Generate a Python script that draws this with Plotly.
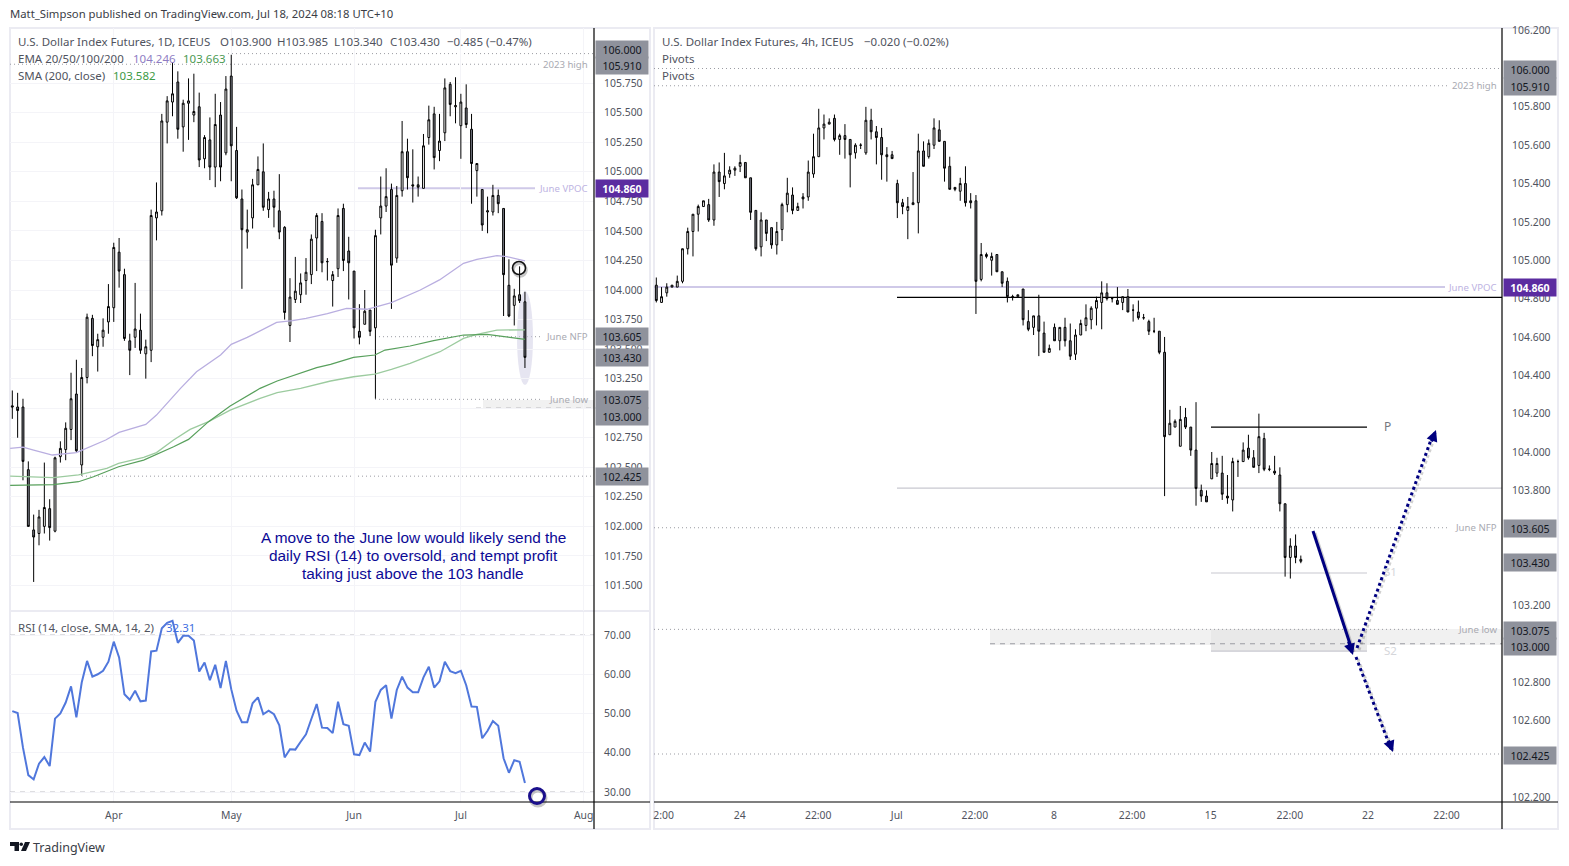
import plotly.graph_objects as go

W, H = 1569, 866
# ---------------- daily candles (U.S. Dollar Index Futures, 1D) ----------------
d_open = [103.02,103.01,103.01,102.48,101.97,101.94,102.00,102.15,101.96,102.59,
102.65,102.82,103.12,102.52,103.26,103.76,103.52,103.60,103.73,103.85,
104.32,104.13,103.57,103.60,103.66,103.46,103.49,104.61,104.67,105.42,
105.59,105.76,105.38,105.58,105.48,105.55,105.11,105.27,105.04,105.48,
105.16,105.81,105.18,104.77,104.49,104.61,104.89,105.00,104.68,104.77,
104.67,104.53,103.70,103.92,103.96,104.08,104.13,104.44,104.58,104.24,
104.08,104.18,104.69,104.33,104.16,103.65,103.71,103.83,103.68,104.61,
104.71,104.85,104.27,104.84,105.17,104.89,104.89,104.86,105.29,105.49,
105.18,105.33,105.74,105.55,105.39,105.54,105.36,105.01,104.85,104.66,
104.66,104.80,104.69,104.04,103.87,103.96,103.90]
d_high = [103.15,103.13,103.08,102.55,102.10,102.14,102.54,102.23,102.59,102.72,
102.88,103.30,103.41,103.34,103.80,103.79,103.63,103.76,104.05,104.40,
104.44,104.18,103.63,104.06,103.80,103.58,104.68,104.91,105.49,105.64,
105.92,105.85,105.61,105.79,105.83,105.67,105.31,105.46,105.66,105.59,
105.81,105.99,105.38,104.85,104.68,104.94,105.13,105.24,104.83,104.84,
104.98,104.54,104.10,104.28,104.14,104.27,104.47,104.65,104.65,104.27,
104.16,104.69,104.73,104.45,104.16,103.88,104.00,103.83,104.51,104.96,
105.03,104.90,104.88,105.43,105.28,105.19,104.96,105.32,105.56,105.55,
105.49,105.79,105.76,105.80,105.66,105.74,105.49,105.07,104.85,104.79,
104.89,104.85,104.69,104.26,104.01,104.20,103.985]
d_low = [102.91,102.75,102.39,102.00,101.53,101.84,101.94,101.88,101.95,102.54,
102.56,102.73,102.63,102.43,103.21,103.44,103.31,103.52,103.63,103.73,
104.02,103.57,103.28,103.51,103.46,103.25,103.39,104.42,104.63,105.24,
105.47,105.28,105.17,105.27,105.42,105.04,105.03,104.93,104.87,104.92,
105.14,104.92,104.77,104.01,104.35,104.52,104.89,104.67,104.61,104.53,
104.43,103.75,103.56,103.89,103.89,103.96,104.05,104.16,104.15,104.08,
103.86,104.11,104.16,103.92,103.59,103.54,103.71,103.61,103.08,104.47,
104.66,103.84,104.23,104.79,104.85,104.74,104.79,104.86,105.23,105.02,
105.09,105.26,105.47,105.41,105.11,105.37,104.73,104.79,104.50,104.48,
104.63,104.65,103.78,103.77,103.70,103.89,103.34]
d_close = [103.01,102.98,102.55,102.00,101.91,102.08,102.16,101.99,102.58,102.66,
102.83,103.08,102.64,103.26,103.77,103.53,103.58,103.66,103.86,104.36,
104.16,103.59,103.49,103.67,103.49,103.52,104.63,104.66,105.43,105.60,
105.66,105.36,105.58,105.60,105.51,105.10,105.29,105.04,105.40,105.04,
105.70,105.22,104.78,104.51,104.51,104.89,105.02,104.70,104.77,104.70,
104.49,103.81,103.94,103.99,104.06,104.15,104.43,104.63,104.23,104.24,
104.13,104.63,104.25,104.23,103.68,103.60,103.82,103.65,104.46,104.71,
104.79,104.21,104.80,105.17,104.95,104.88,104.87,105.22,105.44,105.12,
105.26,105.71,105.57,105.56,105.59,105.40,105.07,105.07,104.55,104.67,
104.80,104.73,104.13,103.78,103.95,103.91,103.43]

# moving averages, read at a few sessions
ema_x = [-0.4,2,4,7.5,12,17.5,20,25,27,31.5,34.5,39,41,44,49.5,52.5,55,59,62.6,66.4,71,76.4,80,84.5,87,90.75,92.6,96]
ema_y = [102.66,102.67,102.646,102.604,102.624,102.731,102.795,102.863,102.942,103.168,103.309,103.45,103.54,103.599,103.726,103.74,103.76,103.80,103.845,103.837,103.893,104.0,104.085,104.226,104.26,104.291,104.282,104.246]
sma_x = [-0.4,7.7,12.4,15.2,19.9,24.6,30.2,33,36.75,40.8,46.4,49.6,57,59.6,63.9,67.9,69.8,74.5,78.9,84.5,88.9,92,96]
sma_y = [102.347,102.353,102.378,102.42,102.505,102.561,102.674,102.736,102.886,103.018,103.168,103.23,103.343,103.371,103.43,103.45,103.492,103.526,103.571,103.619,103.625,103.605,103.582]
ema2_x = [-0.4,3.9,7.7,12.4,17.7,19.9,24.6,27,30.2,33.3,36.75,40.8,46.4,49.6,54,59.6,63.9,67.9,71,74.5,80.1,84.5,87,90.75,96]
ema2_y = [102.426,102.42,102.412,102.435,102.491,102.533,102.584,102.624,102.731,102.821,102.886,102.984,103.083,103.131,103.168,103.23,103.266,103.289,103.328,103.379,103.478,103.591,103.625,103.661,103.663]

rsi = [50.6,50.1,41.3,34.3,33.2,37.2,38.9,36.6,48.7,50.0,52.8,56.9,49.0,57.9,63.4,59.4,60.0,60.9,63.2,68.3,
64.3,54.9,53.5,55.8,53.1,53.3,65.8,66.0,71.7,73.1,73.6,68.0,69.8,69.8,68.6,60.7,63.0,58.5,62.4,56.5,
63.4,56.2,50.7,47.8,47.8,52.6,54.1,49.8,50.7,49.8,47.0,38.8,40.9,40.8,42.8,44.7,48.6,52.4,46.4,46.3,
45.0,53.0,47.3,46.9,39.6,39.4,42.6,40.3,53.0,56.0,57.2,48.7,56.0,59.4,56.6,55.4,55.4,59.2,61.9,56.6,
58.2,63.2,60.8,60.3,60.9,57.2,51.8,51.7,43.7,45.6,48.1,46.9,38.6,34.9,38.1,37.7,32.31]

# ---------------- 4h candles ----------------
h_open = [104.87,104.78,104.83,104.86,104.86,104.89,105.06,105.15,105.24,105.28,
105.29,105.21,105.46,105.40,105.45,105.47,105.49,105.51,105.43,105.26,
105.07,105.21,105.17,105.08,105.16,105.29,105.34,105.26,105.33,105.33,
105.45,105.54,105.69,105.71,105.74,105.63,105.65,105.63,105.56,105.60,
105.56,105.73,105.67,105.64,105.55,105.55,105.40,105.30,105.26,105.29,
105.30,105.57,105.54,105.60,105.68,105.62,105.49,105.38,105.36,105.40,
105.31,105.31,104.90,105.03,105.00,105.03,104.94,104.89,104.81,104.81,
104.85,104.68,104.65,104.71,104.62,104.52,104.65,104.58,104.65,104.58,
104.51,104.61,104.66,104.69,104.75,104.78,104.83,104.80,104.79,104.78,
104.81,104.74,104.73,104.70,104.68,104.63,104.63,104.52,104.09,104.13,
104.03,104.18,104.13,104.01,103.80,103.77,103.86,103.89,103.89,103.77,
103.75,103.95,103.95,104.02,103.97,103.93,104.07,103.91,103.90,103.88,
103.73,103.45,103.51,103.43]
h_high = [104.91,104.86,104.88,104.87,104.92,105.06,105.17,105.24,105.29,105.31,
105.32,105.50,105.51,105.56,105.49,105.49,105.55,105.51,105.43,105.26,
105.25,105.21,105.17,105.20,105.30,105.43,105.38,105.30,105.35,105.52,
105.66,105.79,105.76,105.74,105.76,105.66,105.71,105.63,105.61,105.61,
105.80,105.79,105.70,105.69,105.59,105.57,105.42,105.32,105.33,105.46,
105.66,105.62,105.63,105.74,105.73,105.62,105.54,105.38,105.43,105.49,
105.35,105.34,105.09,105.04,105.04,105.03,104.94,104.91,104.82,104.82,
104.85,104.74,104.71,104.82,104.68,104.56,104.67,104.65,104.70,104.67,
104.64,104.69,104.77,104.76,104.81,104.89,104.88,104.80,104.86,104.81,
104.85,104.77,104.79,104.72,104.69,104.70,104.63,104.60,104.22,104.17,
104.24,104.23,104.13,104.26,103.83,103.80,104.00,103.97,103.98,103.88,
103.97,103.96,104.05,104.09,104.01,104.20,104.10,103.93,103.98,103.92,
103.73,103.55,103.57,103.46]
h_low = [104.78,104.78,104.81,104.86,104.86,104.88,105.03,105.02,105.15,105.28,
105.20,105.18,105.33,105.37,105.43,105.44,105.46,105.43,105.21,105.05,
105.02,105.10,105.06,105.03,105.10,105.25,105.24,105.26,105.27,105.31,
105.43,105.54,105.63,105.71,105.62,105.55,105.53,105.38,105.53,105.58,
105.55,105.63,105.50,105.42,105.41,105.53,105.22,105.24,105.11,105.29,
105.14,105.49,105.53,105.58,105.62,105.41,105.37,105.36,105.31,105.28,
105.27,104.72,104.89,105.01,104.92,104.94,104.86,104.78,104.79,104.81,
104.66,104.63,104.61,104.50,104.52,104.52,104.58,104.53,104.55,104.48,
104.48,104.61,104.63,104.64,104.66,104.64,104.79,104.78,104.77,104.74,
104.73,104.68,104.69,104.69,104.61,104.62,104.51,103.77,104.09,104.13,
104.03,104.12,103.98,103.72,103.74,103.74,103.86,103.87,103.75,103.73,
103.69,103.87,103.95,103.96,103.92,103.89,103.90,103.90,103.88,103.69,
103.35,103.34,103.42,103.42]
h_close = [104.79,104.81,104.86,104.87,104.89,105.06,105.15,105.24,105.28,105.31,
105.21,105.46,105.41,105.44,105.47,105.48,105.51,105.43,105.25,105.06,
105.21,105.14,105.08,105.15,105.29,105.35,105.26,105.28,105.32,105.46,
105.54,105.69,105.71,105.72,105.63,105.65,105.63,105.55,105.60,105.60,
105.73,105.67,105.64,105.55,105.54,105.53,105.30,105.28,105.28,105.30,
105.57,105.49,105.61,105.69,105.62,105.48,105.37,105.37,105.40,105.30,
105.30,104.89,105.03,105.02,105.02,104.94,104.88,104.81,104.81,104.82,
104.69,104.64,104.71,104.63,104.52,104.54,104.58,104.65,104.58,104.50,
104.61,104.67,104.70,104.75,104.79,104.83,104.80,104.80,104.77,104.81,
104.73,104.74,104.70,104.70,104.63,104.63,104.52,104.08,104.15,104.16,
104.17,104.13,104.01,103.81,103.77,103.74,103.94,103.94,103.78,103.76,
103.95,103.95,104.01,103.97,103.92,104.08,103.91,103.91,103.89,103.73,
103.45,103.51,103.45,103.44]

# ---------------- axis labels ----------------
left_ticks = [105.75,105.5,105.25,105.0,104.75,104.5,104.25,104.0,103.75,103.5,103.25,103.0,102.75,102.5,102.25,102.0,101.75,101.5]
rsi_ticks = [70,60,50,40,30]
right_ticks = [106.2,106.0,105.8,105.6,105.4,105.2,105.0,104.8,104.6,104.4,104.2,104.0,103.8,103.6,103.4,103.2,103.0,102.8,102.6,102.4,102.2]
left_x_pos = [19,41,64,84,107]
left_x_txt = ["Apr","May","Jun","Jul","Aug"]
right_x_pos = [1.4,15.9,30.9,45.9,60.8,75.9,90.8,105.8,120.9,135.8,150.8]
right_x_txt = ["2:00","24","22:00","Jul","22:00","8","22:00","15","22:00","22","22:00"]
level_high, level_2023, level_vpoc, level_nfp, level_low, level_103, level_target = 106.0,105.91,104.86,103.605,103.075,103.0,102.425
pivot_p, pivot_r, pivot_mid, pivot_s1, pivot_s2 = 104.13,104.806,103.812,103.369,102.962

FONT = "Noto Sans"
GREY_TXT = "#50535e"
px = lambda x: x / W
py = lambda y: 1 - y / H

# pixel helpers for axes ranges
lx = lambda x: (x - 12.3) / 5.34
rx = lambda x: (x - 656.3) / 5.24
ly = lambda y: 104 + (290 - y) / 118.2
ry = lambda y: 104 + (452 - y) / 191.75
ri = lambda y: 30 + (792 - y) / 3.925

fig = go.Figure()
up = dict(line=dict(color="#000000", width=1), fillcolor="#ffffff")
dn = dict(line=dict(color="#000000", width=1), fillcolor="#787b86")
fig.add_trace(go.Candlestick(x=list(range(len(d_open))), open=d_open, high=d_high, low=d_low, close=d_close,
    increasing=up, decreasing=dn, whiskerwidth=0, xaxis="x", yaxis="y", hoverinfo="skip"))
fig.add_trace(go.Scatter(x=ema_x, y=ema_y, mode="lines", line=dict(color="#b9aee0", width=1.3), xaxis="x", yaxis="y", hoverinfo="skip"))
fig.add_trace(go.Scatter(x=ema2_x, y=ema2_y, mode="lines", line=dict(color="#9ccb9f", width=1.3), xaxis="x", yaxis="y", hoverinfo="skip"))
fig.add_trace(go.Scatter(x=sma_x, y=sma_y, mode="lines", line=dict(color="#58a05c", width=1.2), xaxis="x", yaxis="y", hoverinfo="skip"))
fig.add_trace(go.Scatter(x=list(range(len(rsi))), y=rsi, mode="lines", line=dict(color="#5077dc", width=2), xaxis="x2", yaxis="y2", hoverinfo="skip"))
fig.add_trace(go.Candlestick(x=list(range(len(h_open))), open=h_open, high=h_high, low=h_low, close=h_close,
    increasing=up, decreasing=dn, whiskerwidth=0, xaxis="x3", yaxis="y3", hoverinfo="skip"))

shapes = []
def pline(x0, y0, x1, y1, color, width=1, dash=None, layer="below"):
    shapes.append(dict(type="line", xref="paper", yref="paper", x0=px(x0), y0=py(y0), x1=px(x1), y1=py(y1),
                       line=dict(color=color, width=width, dash=dash or "solid"), layer=layer))
def prect(x0, y0, x1, y1, fill, layer="below"):
    shapes.append(dict(type="rect", xref="paper", yref="paper", x0=px(x0), y0=py(y0), x1=px(x1), y1=py(y1),
                       fillcolor=fill, line=dict(width=0), layer=layer))
def hl(ax, price, x0, x1, color, width=1, dash=None):
    # horizontal level drawn on the price axis (paper x, data y)
    yref = {"l": "y", "r": "y3"}[ax]
    shapes.append(dict(type="line", xref="paper", yref=yref, x0=px(x0), x1=px(x1), y0=price, y1=price,
                       line=dict(color=color, width=width, dash=dash or "solid"), layer="below"))

FRAME = "#ebebf2"
# frames
for (a, b) in [(10, 650), (654, 1558)]:
    shapes.append(dict(type="rect", xref="paper", yref="paper", x0=px(a), x1=px(b), y0=py(829), y1=py(28),
                       line=dict(color=FRAME, width=2), fillcolor="rgba(0,0,0,0)", layer="below"))
pline(10, 611, 650, 611, FRAME, 2)
pline(10, 802, 650, 802, "#000000", 1.2, layer="above")
pline(654, 802, 1558, 802, "#000000", 1.2, layer="above")
pline(594, 28, 594, 829, "#000000", 1.2, layer="above")
pline(1502, 28, 1502, 829, "#000000", 1.2, layer="above")

DOT = "#9b9ca3"
# left pane levels
prect(483, 400, 594, 408, "#f1f1f1")
hl("l", level_high, 228, 594, DOT, 1, "1px,3px")
hl("l", level_2023, 10, 540, DOT, 1, "1px,3px")
hl("l", level_vpoc, 358, 535, "#cfc9e8", 2)
hl("l", level_nfp, 375, 542, DOT, 1, "1px,3px")
hl("l", level_low, 375, 542, DOT, 1, "1px,3px")
hl("l", level_103, 476, 594, "#9b9ca3", 1, "5px,5px")
hl("l", level_target, 82, 594, DOT, 1, "1px,3px")
# ellipse around last day
shapes.append(dict(type="circle", xref="paper", yref="paper", x0=px(517), x1=px(533), y0=py(385), y1=py(291),
                   fillcolor="rgba(205,203,228,0.5)", line=dict(width=0), layer="below"))
# circles with shadow
def ring(cx, cy, r, color, lw):
    shapes.append(dict(type="circle", xref="paper", yref="paper", x0=px(cx-r+1), x1=px(cx+r+1), y0=py(cy+r+2), y1=py(cy-r+2),
                       line=dict(color="rgba(0,0,0,0.22)", width=lw+1), layer="above"))
    shapes.append(dict(type="circle", xref="paper", yref="paper", x0=px(cx-r), x1=px(cx+r), y0=py(cy+r), y1=py(cy-r),
                       line=dict(color=color, width=lw), layer="above"))
ring(519, 268, 6.5, "#111111", 1.6)
ring(537, 796, 7.5, "#1a0f8c", 3)

# rsi bands
for v in (70, 50, 30):
    shapes.append(dict(type="line", xref="paper", yref="y2", x0=px(10), x1=px(594), y0=v, y1=v,
                       line=dict(color="#bdbdc2", width=1, dash="5px,5px"), layer="below"))

# right pane levels
prect(990, 629, 1502, 645, "#f1f1f1")
prect(1211, 629, 1367, 651, "#e9e9e9")
hl("r", level_high, 654, 1502, DOT, 1, "1px,3px")
hl("r", level_2023, 654, 1450, DOT, 1, "1px,3px")
hl("r", level_vpoc, 654, 1445, "#cfc9e8", 2)
hl("r", pivot_r, 897, 1502, "#000000", 1.2)
hl("r", pivot_mid, 897, 1502, "#c8c8d0", 1.2)
hl("r", pivot_p, 1211, 1367, "#000000", 1.2)
hl("r", pivot_s1, 1211, 1367, "#c8c8d0", 1.2)
hl("r", pivot_s2, 1211, 1367, "#c8c8d0", 1.2)
hl("r", level_nfp, 654, 1450, DOT, 1, "1px,3px")
hl("r", level_low, 654, 1450, DOT, 1, "1px,3px")
hl("r", level_103, 990, 1502, "#9b9ca3", 1, "5px,5px")
hl("r", level_target, 654, 1502, DOT, 1, "1px,3px")

# forecast arrows (navy)
NAVY = "#000080"
arrow_seg = [((1313,531),(1352,650),"solid"), ((1356,657),(1391,749),"3px,3px"), ((1357,648),(1433,434),"3px,3px")]
for (a, b, d) in arrow_seg:
    shapes.append(dict(type="line", xref="paper", yref="paper", x0=px(a[0]+2), y0=py(a[1]+2), x1=px(b[0]+2), y1=py(b[1]+2),
                       line=dict(color="rgba(0,0,0,0.18)", width=3, dash=d), layer="above"))
    shapes.append(dict(type="line", xref="paper", yref="paper", x0=px(a[0]), y0=py(a[1]), x1=px(b[0]), y1=py(b[1]),
                       line=dict(color=NAVY, width=3, dash=d), layer="above"))
# TradingView logo
def path(points, fill):
    d = "M " + " L ".join(f"{px(x)},{py(y)}" for x, y in points) + " Z"
    shapes.append(dict(type="path", xref="paper", yref="paper", path=d, fillcolor=fill, line=dict(width=0), layer="above"))
path([(10,842),(19,842),(19,851),(14.5,851),(14.5,846),(10,846)], "#131722")
path([(25,842),(30,842),(26,851),(21,851)], "#131722")
shapes.append(dict(type="circle", xref="paper", yref="paper", x0=px(19.5), x1=px(23), y0=py(846), y1=py(842.5), fillcolor="#131722", line=dict(width=0), layer="above"))

ann = []
def txt(x, y, s, color=GREY_TXT, size=11.5, anchor="left", font=FONT, yanchor="middle"):
    # annotations carry about 2px of padding, so left-anchored text is nudged back by it
    xx = x - 2 if anchor == "left" else x
    ann.append(dict(xref="paper", yref="paper", x=px(xx), y=py(y), text=s, showarrow=False, xanchor=anchor, yanchor=yanchor,
                    align=anchor, font=dict(family=font, size=size, color=color)))
def lvl_label(ax, price, xr, s, color="#a9aab2"):
    ann.append(dict(xref="paper", yref=ax, x=px(xr+2), y=price, text=s, showarrow=False, xanchor="right", yanchor="middle",
                    font=dict(family=FONT, size=9.6, color=color)))
def tag(x0, y, s, bg="#8f929c", color="#131722", bold=False):
    # price tag centred on pixel row y of the price axis
    ann.append(dict(xref="paper", yref="paper", x=px(x0), y=py(y), text=f"<b>{s}</b>" if bold else s, showarrow=False, xanchor="left", yanchor="middle",
                    width=50, height=15, bgcolor=bg, borderpad=1, align="center",
                    font=dict(family=FONT, size=10.6, color=color)))

txt(10, 14, "Matt_Simpson published on TradingView.com, Jul 18, 2024 08:18 UTC+10", "#3a3d46", 11.3)
txt(18, 41.5, "U.S. Dollar Index Futures, 1D, ICEUS", GREY_TXT)
txt(220, 41.5, "O103.900", GREY_TXT); txt(277, 41.5, "H103.985", GREY_TXT); txt(334, 41.5, "L103.340", GREY_TXT); txt(390, 41.5, "C103.430", GREY_TXT)
txt(447, 41.5, "−0.485 (−0.47%)", GREY_TXT)
txt(18, 58.5, "EMA 20/50/100/200", GREY_TXT); txt(133, 58.5, "104.246", "#8e7cc3"); txt(183, 58.5, "103.663", "#4c9a52")
txt(18, 75.5, "SMA (200, close)", GREY_TXT); txt(113, 75.5, "103.582", "#3c9a45")
txt(18, 627, "RSI (14, close, SMA, 14, 2)", GREY_TXT); txt(166, 627, "32.31", "#3f6fe0")
txt(662, 41.5, "U.S. Dollar Index Futures, 4h, ICEUS", GREY_TXT); txt(864, 41.5, "−0.020 (−0.02%)", GREY_TXT)
txt(662, 58.5, "Pivots", GREY_TXT); txt(662, 75.5, "Pivots", GREY_TXT)
txt(33, 847, "TradingView", "#3a3d46", 12.5)

for i, s in enumerate(["A move to the June low would likely send the", "daily RSI (14) to oversold, and tempt profit", "taking just above the 103 handle"]):
    txt(413, 537 + 18 * i, s, "#0c0a96", 15.4, "center", "Liberation Sans")

lvl_label("y", level_2023, 588, "2023 high"); lvl_label("y", level_vpoc, 588, "June VPOC", "#bdb3e2")
lvl_label("y", level_nfp, 588, "June NFP"); lvl_label("y", level_low, 588, "June low")
lvl_label("y3", level_2023, 1497, "2023 high"); lvl_label("y3", level_vpoc, 1497, "June VPOC", "#bdb3e2")
lvl_label("y3", level_nfp, 1497, "June NFP"); lvl_label("y3", level_low, 1497, "June low")
txt(1384, 426, "P", "#75777f", 12)
txt(1384, 571, "S1", "#d5d6da", 11.5); txt(1384, 650, "S2", "#d5d6da", 11.5)

left_tags = [(50, "106.000"), (65, "105.910"), (336.5, "103.605"), (357, "103.430"), (399.5, "103.075"), (416, "103.000"), (476, "102.425")]
right_tags = [(69, "106.000"), (87, "105.910"), (528, "103.605"), (562.5, "103.430"), (630, "103.075"), (646, "103.000"), (755, "102.425")]
for y, s in left_tags:
    tag(595, y, s)
for y, s in right_tags:
    tag(1503, y, s)
tag(595, 188, "104.860", "#5b2ca0", "#ffffff", True)
tag(1503, 287.5, "104.860", "#5b2ca0", "#ffffff", True)

# arrow heads
for tip, tail in [((1353,655),(1348,640)), ((1393,752),(1388,739)), ((1436,430),(1431,443))]:
    ann.append(dict(xref="paper", yref="paper", axref="pixel", ayref="pixel", x=px(tip[0]), y=py(tip[1]), ax=tail[0]-tip[0], ay=tail[1]-tip[1],
                    text="", showarrow=True, arrowhead=2, arrowsize=0.75, arrowwidth=3, arrowcolor=NAVY))

tickf = dict(family=FONT, size=10.4, color=GREY_TXT)
GRID = "#f4f4f8"
fig.update_layout(
    width=W, height=H, margin=dict(l=0, r=0, t=0, b=0, autoexpand=False), paper_bgcolor="#ffffff", plot_bgcolor="rgba(0,0,0,0)",
    showlegend=False, shapes=shapes, annotations=ann, font=dict(family=FONT), boxgap=0.5,
    xaxis=dict(domain=[px(10), px(594)], range=[lx(10), lx(594)], anchor="y", showticklabels=False, tickvals=left_x_pos,
               ticks="", showgrid=True, gridcolor=GRID, zeroline=False, rangeslider=dict(visible=False), showline=False),
    yaxis=dict(domain=[py(611), py(28)], range=[ly(611), ly(28)], anchor="x", side="right", tickvals=left_ticks,
               ticktext=[f"{v:.3f}" for v in left_ticks], tickfont=tickf, ticks="outside", ticklen=7, tickcolor="rgba(0,0,0,0)",
               showgrid=True, gridcolor=GRID, zeroline=False, showline=False),
    xaxis2=dict(domain=[px(10), px(594)], range=[lx(10), lx(594)], anchor="y2", tickvals=left_x_pos, ticktext=left_x_txt,
                tickfont=tickf, ticks="outside", ticklen=4, tickcolor="rgba(0,0,0,0)", showgrid=True, gridcolor=GRID, zeroline=False),
    yaxis2=dict(domain=[py(802), py(612)], range=[ri(802), ri(612)], anchor="x2", side="right", tickvals=rsi_ticks,
                ticktext=[f"{v:.2f}" for v in rsi_ticks], tickfont=tickf, ticks="outside", ticklen=7, tickcolor="rgba(0,0,0,0)",
                showgrid=True, gridcolor=GRID, zeroline=False),
    xaxis3=dict(domain=[px(654), px(1502)], range=[rx(654), rx(1502)], anchor="y3", tickvals=right_x_pos, ticktext=right_x_txt,
                tickfont=tickf, ticks="outside", ticklen=4, tickcolor="rgba(0,0,0,0)", showgrid=False, zeroline=False, rangeslider=dict(visible=False)),
    yaxis3=dict(domain=[py(802), py(28)], range=[ry(802), ry(28)], anchor="x3", side="right", tickvals=right_ticks,
                ticktext=[f"{v:.3f}" for v in right_ticks], tickfont=tickf, ticks="outside", ticklen=7, tickcolor="rgba(0,0,0,0)",
                showgrid=False, zeroline=False),
)
fig.write_html("out.html", config={"displayModeBar": False}, post_script="document.body.style.margin='0';document.body.style.overflow='hidden';")
